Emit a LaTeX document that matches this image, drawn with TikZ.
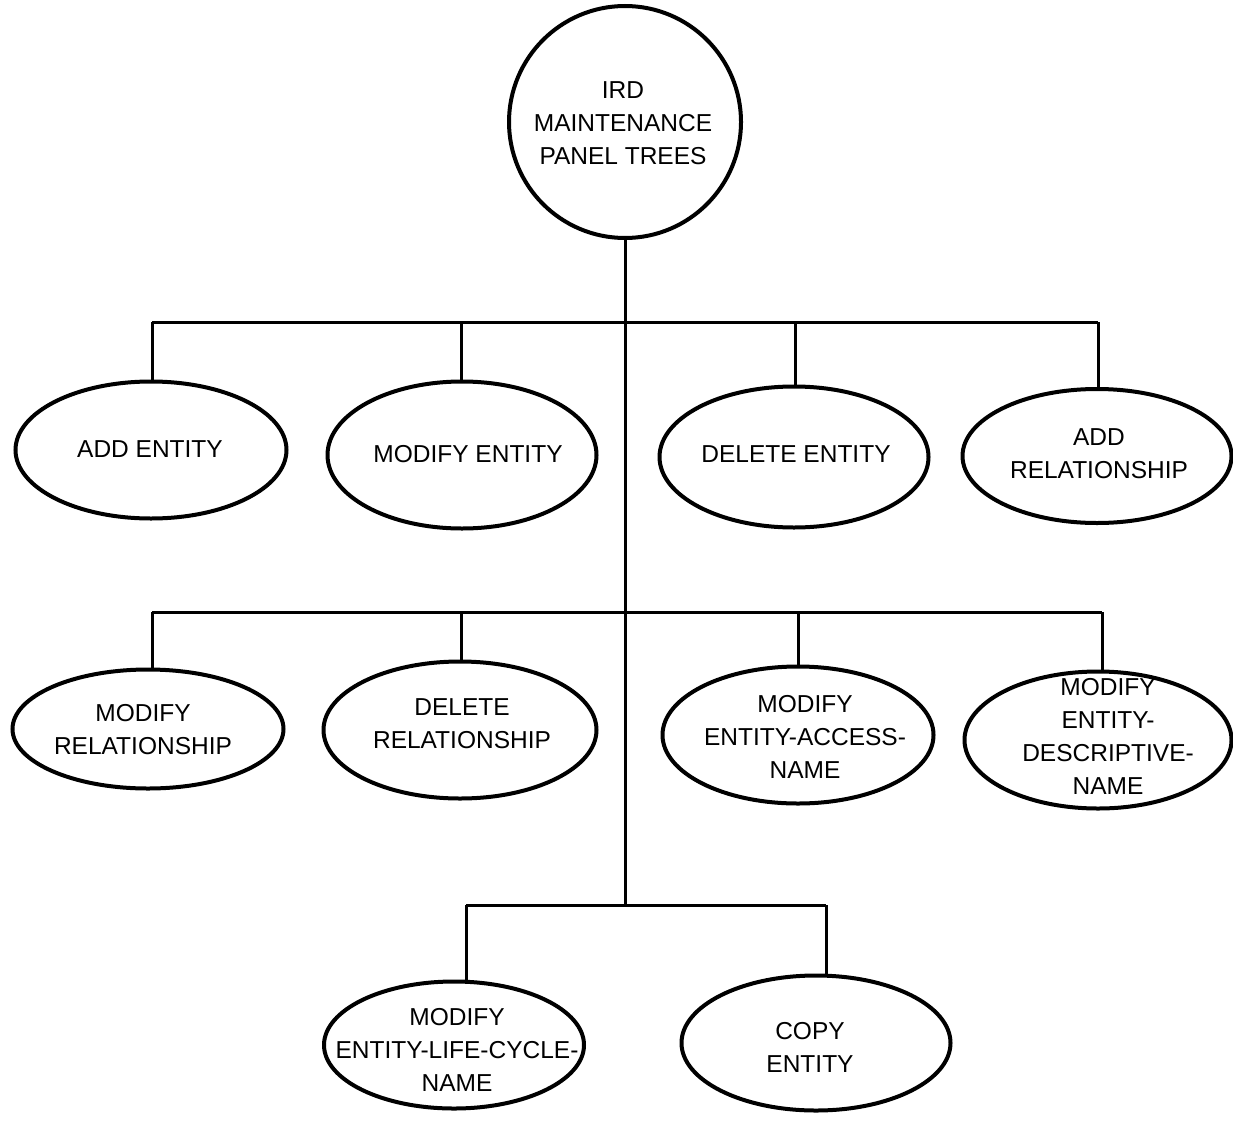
\documentclass[tikz,border=0pt]{standalone}
\usepackage{fontspec}
\setmainfont{Liberation Sans}
\usetikzlibrary{shapes.geometric}
\begin{document}
\begin{tikzpicture}[x=1pt,y=-1pt,
  oval/.style 2 args={draw, ellipse, line width=4pt, inner sep=0pt, minimum width=#1, minimum height=#2},
  lbl/.style={font=\fontsize{24.5}{33}\selectfont, align=center, inner sep=0pt},
  conn/.style={line width=3pt}]
\useasboundingbox[fill=white] (0,0) rectangle (1233,1129);

% root
\node[draw, circle, line width=4pt, minimum size=232pt, inner sep=0pt] (root) at (625,122) {};
\node[lbl] (roott) at (623,123) {IRD\\MAINTENANCE\\PANEL TREES};

% row 1
\node[oval={271}{137}] (ae) at (151,450) {};
\node[oval={269}{147}] (me) at (462,455) {};
\node[oval={269}{141}] (de) at (794,457) {};
\node[oval={269}{134}] (ar) at (1097,456) {};
\node[lbl] (aet) at (150,449) {ADD ENTITY};
\node[lbl] (met) at (468,454) {MODIFY ENTITY};
\node[lbl] (det) at (796,454) {DELETE ENTITY};
\node[lbl] (art) at (1099,454) {ADD\\RELATIONSHIP};

% row 2
\node[oval={271}{119}] (mr) at (148,729) {};
\node[oval={273}{137}] (dr) at (460,730) {};
\node[oval={271}{137}] (mean) at (798,735) {};
\node[oval={267}{137}] (medn) at (1098,740) {};
\node[lbl] (mrt) at (143,730) {MODIFY\\RELATIONSHIP};
\node[lbl] (drt) at (462,724) {DELETE\\RELATIONSHIP};
\node[lbl] (meant) at (805,737) {MODIFY\\ENTITY-ACCESS-\\NAME};
\node[lbl] (mednt) at (1108,736) {MODIFY\\ENTITY-\\DESCRIPTIVE-\\NAME};

% row 3
\node[oval={260}{127}] (melcn) at (454,1045) {};
\node[oval={269}{135}] (ce) at (816,1043) {};
\node[lbl] (melcnt) at (457,1050) {MODIFY\\ENTITY-LIFE-CYCLE-\\NAME};
\node[lbl] (cet) at (810,1047) {COPY\\ENTITY};

% bar coordinates
\coordinate (b1a) at (152,322);
\coordinate (b1b) at (461,322);
\coordinate (b1c) at (795,322);
\coordinate (b1d) at (1098,322);
\coordinate (b2a) at (152,612);
\coordinate (b2b) at (461,612);
\coordinate (b2c) at (798,612);
\coordinate (b2d) at (1102,612);
\coordinate (b3a) at (466,905);
\coordinate (b3b) at (826,905);

% trunk
\draw[conn] (root.south) -- (root.south |- b3a);

% bars
\draw[conn] (b1a) -- (b1d);
\draw[conn] (b2a) -- (b2d);
\draw[conn] (b3a) -- (b3b);

% drops
\draw[conn] (b1a) -- (b1a |- ae.north);
\draw[conn] (b1b) -- (b1b |- me.north);
\draw[conn] (b1c) -- (b1c |- de.north);
\draw[conn] (b1d) -- (b1d |- ar.north);
\draw[conn] (b2a) -- (b2a |- mr.north);
\draw[conn] (b2b) -- (b2b |- dr.north);
\draw[conn] (b2c) -- (b2c |- mean.north);
\draw[conn] (b2d) -- (b2d |- medn.north);
\draw[conn] (b3a) -- (b3a |- melcn.north);
\draw[conn] (b3b) -- (b3b |- ce.north);
\end{tikzpicture}
\end{document}
